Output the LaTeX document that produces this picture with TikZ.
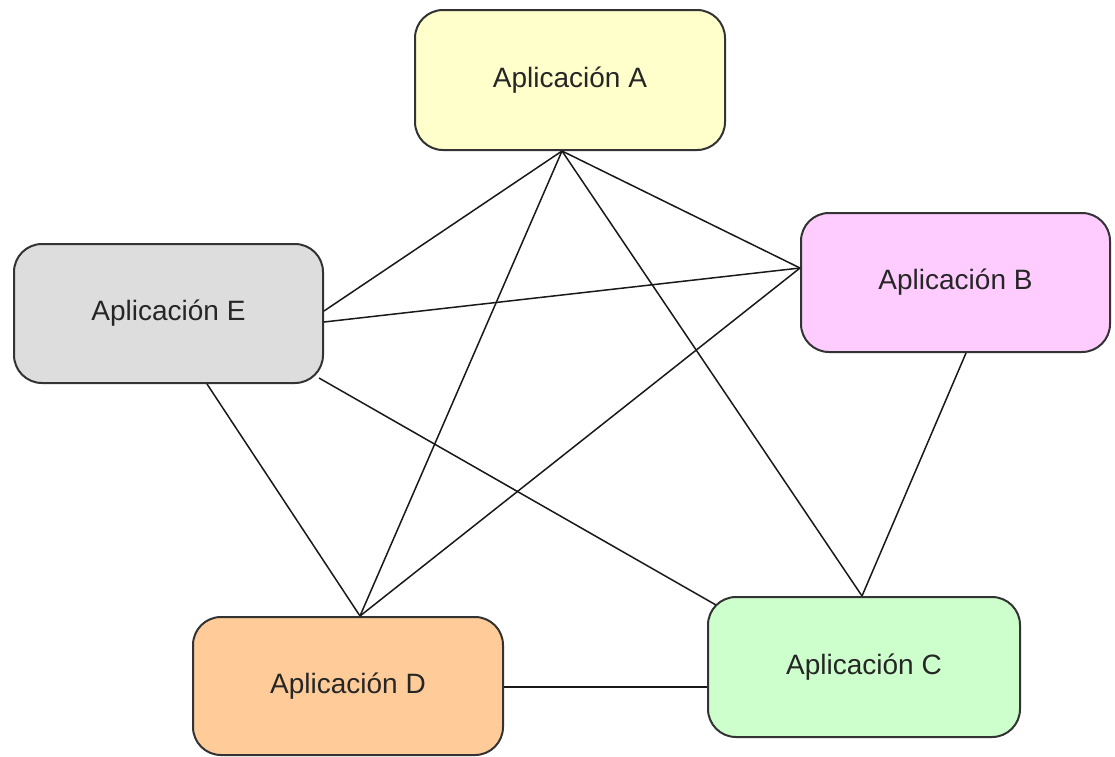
\documentclass[tikz,border=0pt]{standalone}
\usepackage{fontspec}
\setmainfont{Liberation Sans}
\definecolor{edgegray}{HTML}{333333}
\definecolor{textgray}{HTML}{262626}
\definecolor{fillA}{HTML}{FFFFCC}
\definecolor{fillB}{HTML}{FFCCFF}
\definecolor{fillC}{HTML}{CCFFCC}
\definecolor{fillD}{HTML}{FFCC99}
\definecolor{fillE}{HTML}{DDDDDD}
\tikzset{
  app/.style={draw=edgegray, line width=2pt, rounded corners=28pt,
    minimum width=310pt, minimum height=140pt, inner sep=0pt,
    text=textgray, font=\fontsize{28}{34}\selectfont},
  link/.style={draw=black!90, line width=1.5pt}
}
\begin{document}
\begin{tikzpicture}[x=1pt,y=1pt]
\useasboundingbox (0,0) rectangle (1115,-756);
% applications
\node[app, fill=fillA] (A) at (570,-80) {Aplicación A};
\node[app, fill=fillB, minimum width=309pt, minimum height=139pt] (B) at (955.5,-282.5) {Aplicación B};
\node[app, fill=fillC, minimum width=312pt] (C) at (864,-667) {Aplicación C};
\node[app, fill=fillD, minimum height=138pt] (D) at (348,-686) {Aplicación D};
\node[app, fill=fillE, minimum width=309pt, minimum height=139pt] (E) at (168.5,-313.5) {Aplicación E};
% attachment points on the box borders
\coordinate (a0) at ([xshift=-8pt]A.south);
\coordinate (b0) at ([yshift=14.5pt]B.west);
\coordinate (b1) at ([xshift=10.5pt]B.south);
\coordinate (c0) at ([xshift=-2pt]C.north);
\coordinate (c1) at ([xshift=9pt,yshift=-9pt]C.north west);
\coordinate (c2) at ([yshift=-20pt]C.west);
\coordinate (d0) at ([xshift=12pt]D.north);
\coordinate (d1) at ([yshift=-1pt]D.east);
\coordinate (e0) at ([yshift=2.5pt]E.east);
\coordinate (e1) at ([yshift=-8.5pt]E.east);
\coordinate (e2) at ([xshift=-5pt,yshift=6pt]E.south east);
\coordinate (e3) at ([xshift=38.5pt]E.south);
% point-to-point links
\draw[link] (a0) -- (e0);
\draw[link] (a0) -- (b0);
\draw[link] (a0) -- (d0);
\draw[link] (a0) -- (c0);
\draw[link] (e1) -- (b0);
\draw[link] (e2) -- (c1);
\draw[link] (e3) -- (d0);
\draw[link] (b0) -- (d0);
\draw[link] (b1) -- (c0);
\draw[link] (d1) -- (c2);
\end{tikzpicture}
\end{document}
